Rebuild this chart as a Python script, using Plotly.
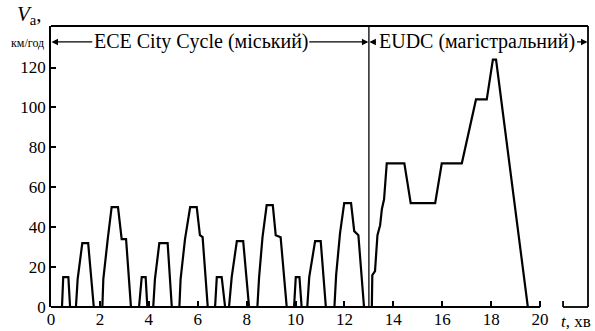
import plotly.graph_objects as go

# time (min) and speed (km/h) breakpoints
t_min = [0, 0.45, 0.50, 0.71, 0.78,
         1.02, 1.09, 1.28, 1.52, 1.75,
         2.10, 2.14, 2.32, 2.48, 2.74, 2.89, 3.07, 3.27,
         3.60, 3.71, 3.87, 3.94,
         4.18, 4.25, 4.43, 4.77, 4.94,
         5.25, 5.30, 5.48, 5.69, 5.96, 6.09, 6.20, 6.41,
         6.71, 6.78, 6.98, 7.12,
         7.28, 7.39, 7.60, 7.86, 8.10,
         8.44, 8.51, 8.65, 8.82, 9.07, 9.19, 9.39, 9.64,
         9.94, 10.01, 10.16, 10.25,
         10.48, 10.56, 10.80, 11.03, 11.24,
         11.59, 11.66, 11.82, 11.99, 12.27, 12.40, 12.57, 12.80,
         13.12, 13.14, 13.25, 13.35, 13.46, 13.53, 13.62, 13.73, 14.45,
         14.71, 15.71, 15.98, 16.80, 17.38, 17.82, 18.07, 18.20, 19.50]
v_kmh = [0, 0, 15, 15, 0,
         0, 14, 32, 32, 0,
         0, 14, 34, 50, 50, 34, 34, 0,
         0, 15, 15, 0,
         0, 14, 32, 32, 0,
         0, 14, 34, 50, 50, 36, 35, 0,
         0, 15, 15, 0,
         0, 15, 33, 33, 0,
         0, 15, 35, 51, 51, 36, 35, 0,
         0, 15, 15, 0,
         0, 15, 33, 33, 0,
         0, 16, 37, 52, 52, 38, 36, 0,
         0, 16, 18, 36, 41, 49, 54, 72, 72,
         52, 52, 72, 72, 104, 104, 124, 124, 0]

x_ticks = [0, 2, 4, 6, 8, 10, 12, 14, 16, 18, 20]
y_ticks = [0, 20, 40, 60, 80, 100, 120]

ece_label = "ECE City Cycle (міський)"
eudc_label = "EUDC (магістральний)"
t_split = 13.0
x_max = 21.96
y_max = 140.8
y_arrow = 132.8

FONT = "Liberation Serif, 'Times New Roman', 'DejaVu Serif', serif"

fig = go.Figure()
fig.add_trace(go.Scatter(x=t_min, y=v_kmh, mode="lines",
                         line=dict(color="black", width=2.2), hoverinfo="skip",
                         showlegend=False))

fig.update_layout(
    width=595, height=331,
    margin=dict(l=51, r=7, t=26, b=24, autoexpand=False),
    paper_bgcolor="white", plot_bgcolor="white",
    font=dict(family=FONT, color="black", size=17),
    showlegend=False,
)
fig.update_xaxes(range=[0, x_max], tickvals=x_ticks, ticktext=[str(v) for v in x_ticks],
                 ticks="inside", ticklen=6, tickwidth=1.5, tickcolor="black",
                 showline=False, showgrid=False, zeroline=False, automargin=False,
                 tickfont=dict(family=FONT, size=17))
fig.update_yaxes(range=[0, y_max], tickvals=y_ticks, ticktext=[str(v) for v in y_ticks],
                 ticks="inside", ticklen=5, tickwidth=1.5, tickcolor="black",
                 showline=True, linewidth=1.8, linecolor="black", mirror=False,
                 showgrid=False, zeroline=False, automargin=False,
                 tickfont=dict(family=FONT, size=17))

line_style = dict(color="black", width=1.8)
# frame top/right, broken bottom axis, divider line
fig.add_shape(type="line", xref="paper", yref="paper", x0=0, x1=1, y0=1, y1=1, line=line_style)
fig.add_shape(type="line", xref="paper", yref="paper", x0=1, x1=1, y0=0, y1=1, line=line_style)
fig.add_shape(type="line", xref="x", yref="paper", x0=0, x1=20, y0=0, y1=0, line=line_style)
fig.add_shape(type="line", xref="x", yref="paper", x0=20.94, x1=x_max, y0=0, y1=0, line=line_style)
fig.add_shape(type="line", xref="x", yref="y", x0=20.94, x1=20.94, y0=0, y1=3, line=line_style)
fig.add_shape(type="line", xref="x", yref="paper", x0=t_split, x1=t_split, y0=0, y1=1,
              line=dict(color="black", width=1.3))

# section labels
fig.add_annotation(x=6.16, y=y_arrow, xref="x", yref="y", text=ece_label, showarrow=False,
                   font=dict(family=FONT, size=20))
fig.add_annotation(x=17.42, y=y_arrow, xref="x", yref="y", text=eudc_label, showarrow=False,
                   font=dict(family=FONT, size=20))

arrows = [(0.02, 1.75), (t_split - 0.02, 10.5), (t_split + 0.02, 13.35), (x_max - 0.02, 21.45)]
for head, tail in arrows:
    fig.add_annotation(x=head, y=y_arrow, ax=tail, ay=y_arrow, xref="x", yref="y",
                       axref="x", ayref="y", text="", showarrow=True,
                       arrowhead=2, arrowsize=1, arrowwidth=1.3, arrowcolor="black")

# axis titles
fig.add_annotation(x=-0.067, y=1.04, xref="paper", yref="paper", xanchor="left",
                   yanchor="middle", text="<i>V</i><sub>a</sub>,", showarrow=False,
                   font=dict(family=FONT, size=21))
fig.add_annotation(x=-0.078, y=0.94, xref="paper", yref="paper", xanchor="left",
                   yanchor="middle", text="км/год",
                   showarrow=False, font=dict(family=FONT, size=12))
fig.add_annotation(x=1.0, y=0, xref="paper", yref="paper", xanchor="right", yanchor="top",
                   xshift=5, yshift=-3, text="<i>t</i>, хв", showarrow=False,
                   font=dict(family=FONT, size=17))

fig.write_html("out.html", config={"displayModeBar": False},
               post_script="document.body.style.margin='0';document.body.style.overflow='hidden';")
